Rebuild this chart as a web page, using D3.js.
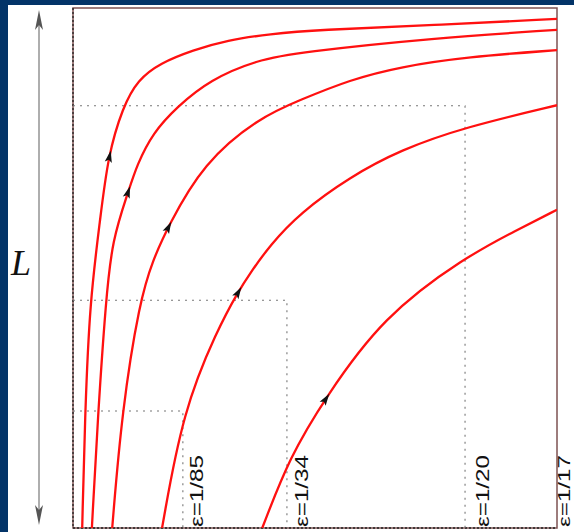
<!DOCTYPE html>
<html>
<head>
<meta charset="utf-8">
<script src="https://cdnjs.cloudflare.com/ajax/libs/d3/7.8.5/d3.min.js"></script>
<style>
  html, body { margin: 0; padding: 0; background: #033468; }
  svg { display: block; }
</style>
</head>
<body>
<svg id="chart" width="574" height="532"></svg>
<script>
// Trajectories in the (x, L) plane, both axes normalised to the frame [0, 1].
const curve1 = [[0.019,0],[0.025,0.225],[0.035,0.438],[0.056,0.592],[0.072,0.715],[0.103,0.810],[0.134,0.862],[0.180,0.894],[0.248,0.919],[0.318,0.938],[0.407,0.950],[0.504,0.958],[0.744,0.967],[1.0,0.979]];
const curve2 = [[0.039,0],[0.052,0.225],[0.068,0.438],[0.081,0.554],[0.114,0.646],[0.132,0.698],[0.165,0.760],[0.215,0.810],[0.283,0.862],[0.380,0.900],[0.469,0.915],[0.744,0.942],[1.0,0.958]];
const curve3 = [[0.081,0],[0.101,0.225],[0.138,0.438],[0.165,0.515],[0.196,0.579],[0.269,0.702],[0.386,0.790],[0.469,0.823],[0.572,0.862],[0.676,0.887],[0.814,0.906],[1.0,0.919]];
const curve4 = [[0.184,0],[0.227,0.225],[0.298,0.381],[0.341,0.454],[0.366,0.490],[0.407,0.544],[0.469,0.606],[0.572,0.675],[0.676,0.727],[0.810,0.771],[1.0,0.813]];
const curve5 = [[0.391,0],[0.448,0.137],[0.521,0.250],[0.640,0.406],[0.810,0.521],[0.917,0.573],[1.0,0.612]];
const curves = [curve1, curve2, curve3, curve4, curve5];
// index of the point on each trajectory that carries its direction arrow
const arrowIndex = [4, 4, 4, 3, 2];

// Guide lines: vertical positions, the L level of their horizontal leg, and labels
const guideX = [0.227, 0.442, 0.810, 1.0];
const guideY = [0.225, 0.438, 0.812, null];
const guideLabels = ["ε=1/85", "ε=1/34", "ε=1/20", "ε=1/17"];

const svg = d3.select("#chart");
const W = 574, H = 532;
const frame = {left: 73, right: 557, top: 8, bottom: 528};

const x = d3.scaleLinear().domain([0, 1]).range([frame.left, frame.right]);
const y = d3.scaleLinear().domain([0, 1]).range([frame.bottom, frame.top]);

// white page inside the navy border
svg.append("rect").attr("x", 8).attr("y", 5).attr("width", W - 8).attr("height", H - 5).attr("fill", "#ffffff");

// L double arrow
const ax = 39, aTop = 10, aBot = 525;
svg.append("line").attr("x1", ax).attr("x2", ax).attr("y1", aTop + 6).attr("y2", aBot - 6)
  .attr("stroke", "#9a9a9a").attr("stroke-width", 1.6);
svg.append("path")
  .attr("d", `M${ax},${aTop} L${ax + 4},${aTop + 20} L${ax},${aTop + 15} L${ax - 4},${aTop + 20} Z`)
  .attr("fill", "#555");
svg.append("path")
  .attr("d", `M${ax},${aBot} L${ax + 4},${aBot - 20} L${ax},${aBot - 15} L${ax - 4},${aBot - 20} Z`)
  .attr("fill", "#555");
svg.append("text").attr("x", 11).attr("y", 275)
  .attr("font-family", "'Liberation Serif', 'DejaVu Serif', serif")
  .attr("font-style", "italic").attr("font-size", 36).attr("fill", "#111").text("L");

// frame
svg.append("rect")
  .attr("x", frame.left).attr("y", frame.top)
  .attr("width", frame.right - frame.left).attr("height", frame.bottom - frame.top)
  .attr("fill", "none").attr("stroke", "#7d5252").attr("stroke-width", 1.5);
svg.append("line").attr("x1", frame.left).attr("x2", frame.left).attr("y1", frame.top).attr("y2", frame.bottom)
  .attr("stroke", "#222").attr("stroke-width", 1.3).attr("stroke-dasharray", "2,2");
svg.append("line").attr("x1", frame.left).attr("x2", frame.right).attr("y1", frame.bottom).attr("y2", frame.bottom)
  .attr("stroke", "#222").attr("stroke-width", 1.3).attr("stroke-dasharray", "2,2");

// dotted guides
const guides = svg.append("g").attr("fill", "none").attr("stroke", "#777")
  .attr("stroke-width", 1.1).attr("stroke-dasharray", "2,5");
guideX.forEach((gx, i) => {
  if (guideY[i] !== null) {
    guides.append("path").attr("d",
      `M${x(0)},${y(guideY[i])} H${x(gx)} V${y(0)}`);
  }
});

// guide labels, read upwards
const labelOffset = [20, 21, 24, 13];
const labelSize = [18, 18, 18, 17];
guideX.forEach((gx, i) => {
  const tx = x(gx) + labelOffset[i];
  svg.append("text")
    .attr("transform", `translate(${tx},${y(0) - 1}) rotate(-90)`)
    .attr("font-family", "'Liberation Sans', Arial, sans-serif")
    .attr("font-size", labelSize[i]).attr("fill", "#111")
    .attr("textLength", 72).attr("lengthAdjust", "spacingAndGlyphs")
    .text(guideLabels[i]);
});

// trajectories (smoothed B-spline through the sampled points)
const line = d3.line().x(d => x(d[0])).y(d => y(d[1])).curve(d3.curveBasis);
svg.append("clipPath").attr("id", "plotclip").append("rect")
  .attr("x", frame.left).attr("y", frame.top)
  .attr("width", frame.right - frame.left).attr("height", frame.bottom - frame.top);

curves.forEach((c, ci) => {
  const p = svg.append("path").attr("d", line(c))
    .attr("fill", "none").attr("stroke", "#ff1010").attr("stroke-width", 2.3)
    .attr("clip-path", "url(#plotclip)");
  // direction arrow at the marked point
  const node = p.node();
  const total = node.getTotalLength();
  const target = [x(c[arrowIndex[ci]][0]), y(c[arrowIndex[ci]][1])];
  let best = 0, bestD = Infinity;
  for (let s = 0; s <= total; s += 0.5) {
    const q = node.getPointAtLength(s);
    const d = (q.x - target[0]) ** 2 + (q.y - target[1]) ** 2;
    if (d < bestD) { bestD = d; best = s; }
  }
  const a = node.getPointAtLength(Math.max(0, best - 2));
  const b = node.getPointAtLength(Math.min(total, best + 2));
  const ang = Math.atan2(b.y - a.y, b.x - a.x) * 180 / Math.PI;
  const m = node.getPointAtLength(best);
  svg.append("path")
    .attr("d", "M6,0 L-6,-3.6 L-3.5,0 L-6,3.6 Z")
    .attr("transform", `translate(${m.x},${m.y}) rotate(${ang})`)
    .attr("fill", "#111");
});
</script>
</body>
</html>
